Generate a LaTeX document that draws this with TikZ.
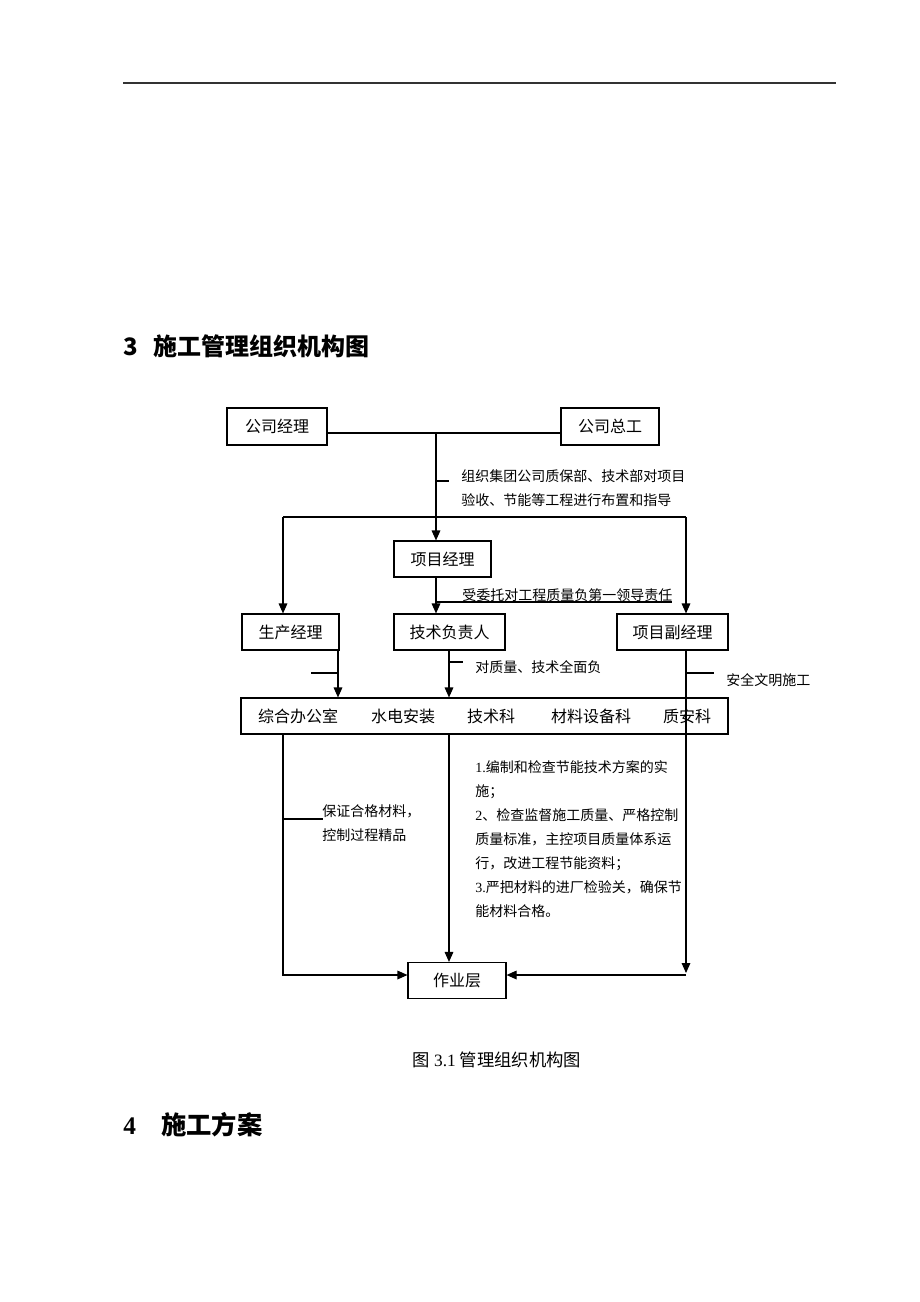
\documentclass[tikz,border=0pt]{standalone}
\usepackage{fontspec}
\setmainfont{Noto Sans CJK SC}
\newfontfamily\tnr{Liberation Serif}
\usetikzlibrary{arrows.meta}
\tikzset{
  bx/.style={draw, line width=0.85pt, inner sep=0pt, font=\fontsize{12}{14}\selectfont},
  lbl/.style={anchor=west, inner sep=0pt, align=left, font=\fontsize{10.5}{18}\selectfont},
  ln/.style={line width=0.85pt},
  arr/.style={line width=0.85pt, -{Triangle[length=7.5pt,width=6.5pt]}},
  hd/.style={anchor=west, inner sep=0pt, font=\fontsize{18}{20}\selectfont\bfseries}
}
\begin{document}
\begin{tikzpicture}[x=0.75pt,y=-0.75pt]
\path[use as bounding box, fill=white] (0,0) rectangle (920,1302);
% top rule
\coordinate (r1) at (123,83);
\coordinate (r2) at (836,83);
\draw[line width=1.1pt, black!80] (r1) -- (r2);
% headings
\node[hd] (h3) at (123,346) {3\hspace{12pt}施工管理组织机构图};
\node[hd, font=\fontsize{19}{21}\selectfont\bfseries] (h4) at (123,1125) {{\tnr 4}\hspace{19pt}施工方案};
\node[inner sep=0pt, font=\fontsize{13}{15}\selectfont] (cap) at (497,1060) {图 {\tnr 3.1} 管理组织机构图};
% boxes
\node[bx, minimum width=100*0.75pt, minimum height=37*0.75pt] (gsjl) at (277,426.5) {公司经理};
\node[bx, minimum width=98*0.75pt, minimum height=37*0.75pt] (gszg) at (610,426.5) {公司总工};
\node[bx, minimum width=97*0.75pt, minimum height=36*0.75pt] (xmjl) at (442.5,559) {项目经理};
\node[bx, minimum width=97*0.75pt, minimum height=36*0.75pt] (scjl) at (290.5,632) {生产经理};
\node[bx, minimum width=111*0.75pt, minimum height=36*0.75pt] (jsfz) at (449.5,632) {技术负责人};
\node[bx, minimum width=111*0.75pt, minimum height=36*0.75pt] (xmfjl) at (672.5,632) {项目副经理};
\node[bx, minimum width=487*0.75pt, minimum height=36*0.75pt] (zh) at (484.5,716) {};
\node[bx, draw=none] (zh1) at (298,716) {综合办公室};
\node[bx, draw=none] (zh2) at (403,716) {水电安装};
\node[bx, draw=none] (zh3) at (491,716) {技术科};
\node[bx, draw=none] (zh4) at (591,716) {材料设备科};
\node[bx, draw=none] (zh5) at (687,716) {质安科};
\node[bx, minimum width=98*0.75pt, minimum height=36*0.75pt] (zyc) at (457,980.5) {作业层};
% labels
\node[lbl] (l1) at (461,488) {组织集团公司质保部、技术部对项目\\验收、节能等工程进行布置和指导};
\node[lbl] (l2) at (462,595) {受委托对工程质量负第一领导责任};
\node[lbl] (l3) at (475,667) {对质量、技术全面负};
\node[lbl] (l4) at (726,680) {安全文明施工};
\node[lbl] (l5) at (322,823.5) {保证合格材料，\\控制过程精品};
\node[lbl] (l6) at (475,839) {{\tnr 1.}编制和检查节能技术方案的实\\施；\\{\tnr 2}、检查监督施工质量、严格控制\\质量标准，主控项目质量体系运\\行，改进工程节能资料；\\{\tnr 3.}严把材料的进厂检验关，确保节\\能材料合格。};
% coordinates
\coordinate (j1) at (436,433);
\coordinate (t1a) at (437,481); \coordinate (t1b) at (449,481);
\coordinate (bl) at (283,517); \coordinate (br) at (686,517);
\coordinate (j2) at (436,602); \coordinate (u2) at (672,602);
\coordinate (s1) at (338,650); \coordinate (s2) at (311,673); \coordinate (s3) at (338,673);
\coordinate (k1) at (449,650); \coordinate (k2) at (449,662); \coordinate (k3) at (463,662);
\coordinate (f1) at (686,650); \coordinate (f2) at (686,673); \coordinate (f3) at (714,673);
\coordinate (f4) at (686,973); \coordinate (f5) at (686,975);
\coordinate (z1) at (283,734); \coordinate (z2) at (283,975);
\coordinate (z3) at (283,819); \coordinate (z4) at (323,819);
\coordinate (m1) at (449,734);
% connectors
\draw[ln] (gsjl.east |- j1) -- (gszg.west |- j1);
\draw[arr] (j1) -- (j1 |- xmjl.north);
\draw[ln] (t1a) -- (t1b);
\draw[ln] (bl) -- (br);
\draw[arr] (bl) -- (bl |- scjl.north);
\draw[arr] (br) -- (br |- xmfjl.north);
\draw[arr] (j1 |- xmjl.south) -- (j1 |- jsfz.north);
\draw[ln] (j2) -- (u2);
\draw[arr] (s1) -- (s1 |- zh.north);
\draw[ln] (s2) -- (s3);
\draw[arr] (k1) -- (k1 |- zh.north);
\draw[ln] (k2) -- (k3);
\draw[arr] (f1) -- (f4);
\draw[ln] (f2) -- (f3);
\draw[arr] (f5) -- (zyc.east |- f5);
\draw[arr] (z1) -- (z2) -- (zyc.west |- z2);
\draw[ln] (z3) -- (z4);
\draw[arr] (m1) -- (m1 |- zyc.north);
\end{tikzpicture}
\end{document}
